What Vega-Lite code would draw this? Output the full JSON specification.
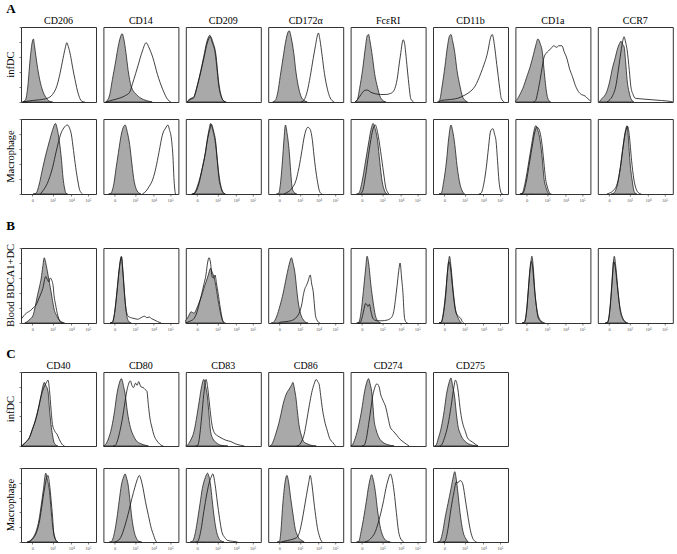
{
"$schema":"https://vega.github.io/schema/vega-lite/v6.json",
"background":"white",
"padding":{"left":6,"top":3,"right":0,"bottom":0},
"spacing":17,
"config":{
"font":"Liberation Serif",
"view":{"stroke":"#333","strokeWidth":1},
"header":{"labelFont":"Liberation Serif","labelFontSize":10.5,"labelColor":"black"},
"title":{"font":"Liberation Serif","fontSize":13,"fontWeight":"bold","anchor":"start","frame":"bounds","color":"black"},
"axis":{"grid":false,"domain":false,"title":null,"tickSize":2,"tickColor":"#444","tickWidth":0.7,"labelFontSize":4.5,"labelColor":"#555","labelPadding":1}
},
"datasets":{"d":[
{"r":"infDC","c":"CD206","k":"i","x":2,"y":0},{"r":"infDC","c":"CD206","k":"i","x":6,"y":3},{"r":"infDC","c":"CD206","k":"i","x":9,"y":20},{"r":"infDC","c":"CD206","k":"i","x":12,"y":55},{"r":"infDC","c":"CD206","k":"i","x":15,"y":80},{"r":"infDC","c":"CD206","k":"i","x":16.5,"y":84},{"r":"infDC","c":"CD206","k":"i","x":18,"y":75},{"r":"infDC","c":"CD206","k":"i","x":20,"y":60},{"r":"infDC","c":"CD206","k":"i","x":23,"y":40},{"r":"infDC","c":"CD206","k":"i","x":26,"y":25},{"r":"infDC","c":"CD206","k":"i","x":30,"y":12},{"r":"infDC","c":"CD206","k":"i","x":34,"y":5},{"r":"infDC","c":"CD206","k":"i","x":38,"y":1},{"r":"infDC","c":"CD206","k":"i","x":42,"y":0},
{"r":"infDC","c":"CD206","k":"s","x":2,"y":0},{"r":"infDC","c":"CD206","k":"s","x":8,"y":1},{"r":"infDC","c":"CD206","k":"s","x":15,"y":2},{"r":"infDC","c":"CD206","k":"s","x":25,"y":3},{"r":"infDC","c":"CD206","k":"s","x":35,"y":5},{"r":"infDC","c":"CD206","k":"s","x":42,"y":10},{"r":"infDC","c":"CD206","k":"s","x":48,"y":22},{"r":"infDC","c":"CD206","k":"s","x":52,"y":38},{"r":"infDC","c":"CD206","k":"s","x":56,"y":58},{"r":"infDC","c":"CD206","k":"s","x":59,"y":72},{"r":"infDC","c":"CD206","k":"s","x":61,"y":79},{"r":"infDC","c":"CD206","k":"s","x":63,"y":74},{"r":"infDC","c":"CD206","k":"s","x":66,"y":62},{"r":"infDC","c":"CD206","k":"s","x":69,"y":45},{"r":"infDC","c":"CD206","k":"s","x":72,"y":30},{"r":"infDC","c":"CD206","k":"s","x":75,"y":16},{"r":"infDC","c":"CD206","k":"s","x":78,"y":6},{"r":"infDC","c":"CD206","k":"s","x":81,"y":1},{"r":"infDC","c":"CD206","k":"s","x":85,"y":0},
{"r":"infDC","c":"CD14","k":"i","x":3,"y":0},{"r":"infDC","c":"CD14","k":"i","x":8,"y":8},{"r":"infDC","c":"CD14","k":"i","x":12,"y":30},{"r":"infDC","c":"CD14","k":"i","x":16,"y":52},{"r":"infDC","c":"CD14","k":"i","x":19,"y":70},{"r":"infDC","c":"CD14","k":"i","x":22,"y":84},{"r":"infDC","c":"CD14","k":"i","x":25,"y":91},{"r":"infDC","c":"CD14","k":"i","x":27,"y":85},{"r":"infDC","c":"CD14","k":"i","x":30,"y":66},{"r":"infDC","c":"CD14","k":"i","x":33,"y":42},{"r":"infDC","c":"CD14","k":"i","x":37,"y":21},{"r":"infDC","c":"CD14","k":"i","x":44,"y":10},{"r":"infDC","c":"CD14","k":"i","x":50,"y":5},{"r":"infDC","c":"CD14","k":"i","x":57,"y":2},{"r":"infDC","c":"CD14","k":"i","x":65,"y":0},
{"r":"infDC","c":"CD14","k":"s","x":3,"y":0},{"r":"infDC","c":"CD14","k":"s","x":10,"y":2},{"r":"infDC","c":"CD14","k":"s","x":21,"y":5},{"r":"infDC","c":"CD14","k":"s","x":30,"y":9},{"r":"infDC","c":"CD14","k":"s","x":35,"y":13},{"r":"infDC","c":"CD14","k":"s","x":39,"y":25},{"r":"infDC","c":"CD14","k":"s","x":43,"y":38},{"r":"infDC","c":"CD14","k":"s","x":46,"y":48},{"r":"infDC","c":"CD14","k":"s","x":52,"y":68},{"r":"infDC","c":"CD14","k":"s","x":57,"y":79},{"r":"infDC","c":"CD14","k":"s","x":61,"y":72},{"r":"infDC","c":"CD14","k":"s","x":66,"y":59},{"r":"infDC","c":"CD14","k":"s","x":72,"y":37},{"r":"infDC","c":"CD14","k":"s","x":79,"y":17},{"r":"infDC","c":"CD14","k":"s","x":86,"y":3},{"r":"infDC","c":"CD14","k":"s","x":90,"y":0},
{"r":"infDC","c":"CD209","k":"i","x":2,"y":0},{"r":"infDC","c":"CD209","k":"i","x":5,"y":4},{"r":"infDC","c":"CD209","k":"i","x":7,"y":5},{"r":"infDC","c":"CD209","k":"i","x":10,"y":6},{"r":"infDC","c":"CD209","k":"i","x":16,"y":25},{"r":"infDC","c":"CD209","k":"i","x":20,"y":42},{"r":"infDC","c":"CD209","k":"i","x":24,"y":61},{"r":"infDC","c":"CD209","k":"i","x":28,"y":80},{"r":"infDC","c":"CD209","k":"i","x":31,"y":88},{"r":"infDC","c":"CD209","k":"i","x":32,"y":89},{"r":"infDC","c":"CD209","k":"i","x":35,"y":80},{"r":"infDC","c":"CD209","k":"i","x":39,"y":66},{"r":"infDC","c":"CD209","k":"i","x":42,"y":40},{"r":"infDC","c":"CD209","k":"i","x":44,"y":21},{"r":"infDC","c":"CD209","k":"i","x":47,"y":8},{"r":"infDC","c":"CD209","k":"i","x":49,"y":3},{"r":"infDC","c":"CD209","k":"i","x":53,"y":0},
{"r":"infDC","c":"CD209","k":"s","x":2,"y":0},{"r":"infDC","c":"CD209","k":"s","x":7,"y":4},{"r":"infDC","c":"CD209","k":"s","x":10,"y":5},{"r":"infDC","c":"CD209","k":"s","x":16,"y":24},{"r":"infDC","c":"CD209","k":"s","x":24,"y":58},{"r":"infDC","c":"CD209","k":"s","x":29,"y":80},{"r":"infDC","c":"CD209","k":"s","x":33,"y":87},{"r":"infDC","c":"CD209","k":"s","x":36,"y":80},{"r":"infDC","c":"CD209","k":"s","x":40,"y":64},{"r":"infDC","c":"CD209","k":"s","x":44,"y":25},{"r":"infDC","c":"CD209","k":"s","x":47,"y":9},{"r":"infDC","c":"CD209","k":"s","x":50,"y":2},{"r":"infDC","c":"CD209","k":"s","x":54,"y":0},
{"r":"infDC","c":"CD172α","k":"i","x":6,"y":0},{"r":"infDC","c":"CD172α","k":"i","x":10,"y":3},{"r":"infDC","c":"CD172α","k":"i","x":13,"y":14},{"r":"infDC","c":"CD172α","k":"i","x":16,"y":34},{"r":"infDC","c":"CD172α","k":"i","x":20,"y":60},{"r":"infDC","c":"CD172α","k":"i","x":23,"y":79},{"r":"infDC","c":"CD172α","k":"i","x":26,"y":92},{"r":"infDC","c":"CD172α","k":"i","x":28,"y":95},{"r":"infDC","c":"CD172α","k":"i","x":31,"y":84},{"r":"infDC","c":"CD172α","k":"i","x":34,"y":66},{"r":"infDC","c":"CD172α","k":"i","x":37,"y":40},{"r":"infDC","c":"CD172α","k":"i","x":41,"y":17},{"r":"infDC","c":"CD172α","k":"i","x":44,"y":7},{"r":"infDC","c":"CD172α","k":"i","x":48,"y":2},{"r":"infDC","c":"CD172α","k":"i","x":52,"y":0},
{"r":"infDC","c":"CD172α","k":"s","x":44,"y":0},{"r":"infDC","c":"CD172α","k":"s","x":48,"y":3},{"r":"infDC","c":"CD172α","k":"s","x":52,"y":14},{"r":"infDC","c":"CD172α","k":"s","x":56,"y":34},{"r":"infDC","c":"CD172α","k":"s","x":60,"y":58},{"r":"infDC","c":"CD172α","k":"s","x":63,"y":75},{"r":"infDC","c":"CD172α","k":"s","x":65,"y":86},{"r":"infDC","c":"CD172α","k":"s","x":67,"y":92},{"r":"infDC","c":"CD172α","k":"s","x":69,"y":83},{"r":"infDC","c":"CD172α","k":"s","x":72,"y":61},{"r":"infDC","c":"CD172α","k":"s","x":75,"y":38},{"r":"infDC","c":"CD172α","k":"s","x":79,"y":17},{"r":"infDC","c":"CD172α","k":"s","x":82,"y":7},{"r":"infDC","c":"CD172α","k":"s","x":85,"y":2},{"r":"infDC","c":"CD172α","k":"s","x":88,"y":0},
{"r":"infDC","c":"FcεRI","k":"i","x":6,"y":0},{"r":"infDC","c":"FcεRI","k":"i","x":9,"y":3},{"r":"infDC","c":"FcεRI","k":"i","x":12,"y":18},{"r":"infDC","c":"FcεRI","k":"i","x":16,"y":43},{"r":"infDC","c":"FcεRI","k":"i","x":20,"y":75},{"r":"infDC","c":"FcεRI","k":"i","x":22,"y":88},{"r":"infDC","c":"FcεRI","k":"i","x":24,"y":90},{"r":"infDC","c":"FcεRI","k":"i","x":26,"y":80},{"r":"infDC","c":"FcεRI","k":"i","x":29,"y":61},{"r":"infDC","c":"FcεRI","k":"i","x":32,"y":38},{"r":"infDC","c":"FcεRI","k":"i","x":36,"y":19},{"r":"infDC","c":"FcεRI","k":"i","x":39,"y":8},{"r":"infDC","c":"FcεRI","k":"i","x":42,"y":3},{"r":"infDC","c":"FcεRI","k":"i","x":47,"y":0},
{"r":"infDC","c":"FcεRI","k":"s","x":6,"y":0},{"r":"infDC","c":"FcεRI","k":"s","x":9,"y":3},{"r":"infDC","c":"FcεRI","k":"s","x":14,"y":10},{"r":"infDC","c":"FcεRI","k":"s","x":18,"y":15},{"r":"infDC","c":"FcεRI","k":"s","x":22,"y":16},{"r":"infDC","c":"FcεRI","k":"s","x":27,"y":13},{"r":"infDC","c":"FcεRI","k":"s","x":33,"y":11},{"r":"infDC","c":"FcεRI","k":"s","x":40,"y":10},{"r":"infDC","c":"FcεRI","k":"s","x":47,"y":10},{"r":"infDC","c":"FcεRI","k":"s","x":52,"y":11},{"r":"infDC","c":"FcεRI","k":"s","x":56,"y":13},{"r":"infDC","c":"FcεRI","k":"s","x":59,"y":18},{"r":"infDC","c":"FcεRI","k":"s","x":62,"y":30},{"r":"infDC","c":"FcεRI","k":"s","x":65,"y":52},{"r":"infDC","c":"FcεRI","k":"s","x":67,"y":66},{"r":"infDC","c":"FcεRI","k":"s","x":69,"y":80},{"r":"infDC","c":"FcεRI","k":"s","x":70,"y":83},{"r":"infDC","c":"FcεRI","k":"s","x":72,"y":78},{"r":"infDC","c":"FcεRI","k":"s","x":73,"y":70},{"r":"infDC","c":"FcεRI","k":"s","x":75,"y":50},{"r":"infDC","c":"FcεRI","k":"s","x":77,"y":30},{"r":"infDC","c":"FcεRI","k":"s","x":79,"y":12},{"r":"infDC","c":"FcεRI","k":"s","x":80,"y":5},{"r":"infDC","c":"FcεRI","k":"s","x":84,"y":0},
{"r":"infDC","c":"CD11b","k":"i","x":6,"y":0},{"r":"infDC","c":"CD11b","k":"i","x":9,"y":3},{"r":"infDC","c":"CD11b","k":"i","x":12,"y":20},{"r":"infDC","c":"CD11b","k":"i","x":16,"y":48},{"r":"infDC","c":"CD11b","k":"i","x":19,"y":72},{"r":"infDC","c":"CD11b","k":"i","x":22,"y":88},{"r":"infDC","c":"CD11b","k":"i","x":24,"y":90},{"r":"infDC","c":"CD11b","k":"i","x":26,"y":82},{"r":"infDC","c":"CD11b","k":"i","x":29,"y":66},{"r":"infDC","c":"CD11b","k":"i","x":32,"y":42},{"r":"infDC","c":"CD11b","k":"i","x":36,"y":21},{"r":"infDC","c":"CD11b","k":"i","x":39,"y":8},{"r":"infDC","c":"CD11b","k":"i","x":42,"y":3},{"r":"infDC","c":"CD11b","k":"i","x":46,"y":0},
{"r":"infDC","c":"CD11b","k":"s","x":8,"y":0},{"r":"infDC","c":"CD11b","k":"s","x":11,"y":2},{"r":"infDC","c":"CD11b","k":"s","x":20,"y":3},{"r":"infDC","c":"CD11b","k":"s","x":33,"y":5},{"r":"infDC","c":"CD11b","k":"s","x":40,"y":8},{"r":"infDC","c":"CD11b","k":"s","x":47,"y":12},{"r":"infDC","c":"CD11b","k":"s","x":52,"y":16},{"r":"infDC","c":"CD11b","k":"s","x":56,"y":21},{"r":"infDC","c":"CD11b","k":"s","x":60,"y":29},{"r":"infDC","c":"CD11b","k":"s","x":64,"y":39},{"r":"infDC","c":"CD11b","k":"s","x":68,"y":50},{"r":"infDC","c":"CD11b","k":"s","x":71,"y":59},{"r":"infDC","c":"CD11b","k":"s","x":74,"y":72},{"r":"infDC","c":"CD11b","k":"s","x":76,"y":83},{"r":"infDC","c":"CD11b","k":"s","x":79,"y":90},{"r":"infDC","c":"CD11b","k":"s","x":82,"y":75},{"r":"infDC","c":"CD11b","k":"s","x":85,"y":50},{"r":"infDC","c":"CD11b","k":"s","x":87,"y":34},{"r":"infDC","c":"CD11b","k":"s","x":89,"y":18},{"r":"infDC","c":"CD11b","k":"s","x":91,"y":5},{"r":"infDC","c":"CD11b","k":"s","x":95,"y":0},
{"r":"infDC","c":"CD1a","k":"i","x":0,"y":1},{"r":"infDC","c":"CD1a","k":"i","x":2,"y":3},{"r":"infDC","c":"CD1a","k":"i","x":6,"y":10},{"r":"infDC","c":"CD1a","k":"i","x":11,"y":21},{"r":"infDC","c":"CD1a","k":"i","x":15,"y":33},{"r":"infDC","c":"CD1a","k":"i","x":20,"y":48},{"r":"infDC","c":"CD1a","k":"i","x":24,"y":63},{"r":"infDC","c":"CD1a","k":"i","x":27,"y":75},{"r":"infDC","c":"CD1a","k":"i","x":30,"y":84},{"r":"infDC","c":"CD1a","k":"i","x":33,"y":78},{"r":"infDC","c":"CD1a","k":"i","x":36,"y":66},{"r":"infDC","c":"CD1a","k":"i","x":38,"y":45},{"r":"infDC","c":"CD1a","k":"i","x":40,"y":25},{"r":"infDC","c":"CD1a","k":"i","x":42,"y":10},{"r":"infDC","c":"CD1a","k":"i","x":44,"y":3},{"r":"infDC","c":"CD1a","k":"i","x":47,"y":0},
{"r":"infDC","c":"CD1a","k":"s","x":24,"y":0},{"r":"infDC","c":"CD1a","k":"s","x":27,"y":2},{"r":"infDC","c":"CD1a","k":"s","x":30,"y":14},{"r":"infDC","c":"CD1a","k":"s","x":33,"y":30},{"r":"infDC","c":"CD1a","k":"s","x":36,"y":48},{"r":"infDC","c":"CD1a","k":"s","x":38,"y":59},{"r":"infDC","c":"CD1a","k":"s","x":41,"y":65},{"r":"infDC","c":"CD1a","k":"s","x":44,"y":68},{"r":"infDC","c":"CD1a","k":"s","x":48,"y":72},{"r":"infDC","c":"CD1a","k":"s","x":51,"y":75},{"r":"infDC","c":"CD1a","k":"s","x":55,"y":73},{"r":"infDC","c":"CD1a","k":"s","x":58,"y":75},{"r":"infDC","c":"CD1a","k":"s","x":62,"y":75},{"r":"infDC","c":"CD1a","k":"s","x":65,"y":67},{"r":"infDC","c":"CD1a","k":"s","x":69,"y":57},{"r":"infDC","c":"CD1a","k":"s","x":72,"y":45},{"r":"infDC","c":"CD1a","k":"s","x":76,"y":34},{"r":"infDC","c":"CD1a","k":"s","x":80,"y":22},{"r":"infDC","c":"CD1a","k":"s","x":84,"y":14},{"r":"infDC","c":"CD1a","k":"s","x":88,"y":10},{"r":"infDC","c":"CD1a","k":"s","x":93,"y":8},{"r":"infDC","c":"CD1a","k":"s","x":96,"y":5},{"r":"infDC","c":"CD1a","k":"s","x":98,"y":3},{"r":"infDC","c":"CD1a","k":"s","x":100,"y":2},
{"r":"infDC","c":"CCR7","k":"i","x":2,"y":0},{"r":"infDC","c":"CCR7","k":"i","x":4,"y":3},{"r":"infDC","c":"CCR7","k":"i","x":8,"y":7},{"r":"infDC","c":"CCR7","k":"i","x":12,"y":14},{"r":"infDC","c":"CCR7","k":"i","x":16,"y":28},{"r":"infDC","c":"CCR7","k":"i","x":19,"y":43},{"r":"infDC","c":"CCR7","k":"i","x":23,"y":58},{"r":"infDC","c":"CCR7","k":"i","x":26,"y":70},{"r":"infDC","c":"CCR7","k":"i","x":29,"y":78},{"r":"infDC","c":"CCR7","k":"i","x":31,"y":81},{"r":"infDC","c":"CCR7","k":"i","x":33,"y":77},{"r":"infDC","c":"CCR7","k":"i","x":35,"y":74},{"r":"infDC","c":"CCR7","k":"i","x":37,"y":55},{"r":"infDC","c":"CCR7","k":"i","x":39,"y":30},{"r":"infDC","c":"CCR7","k":"i","x":42,"y":12},{"r":"infDC","c":"CCR7","k":"i","x":44,"y":5},{"r":"infDC","c":"CCR7","k":"i","x":48,"y":0},
{"r":"infDC","c":"CCR7","k":"s","x":12,"y":0},{"r":"infDC","c":"CCR7","k":"s","x":15,"y":2},{"r":"infDC","c":"CCR7","k":"s","x":20,"y":9},{"r":"infDC","c":"CCR7","k":"s","x":24,"y":21},{"r":"infDC","c":"CCR7","k":"s","x":27,"y":40},{"r":"infDC","c":"CCR7","k":"s","x":30,"y":61},{"r":"infDC","c":"CCR7","k":"s","x":33,"y":80},{"r":"infDC","c":"CCR7","k":"s","x":35,"y":87},{"r":"infDC","c":"CCR7","k":"s","x":37,"y":80},{"r":"infDC","c":"CCR7","k":"s","x":39,"y":70},{"r":"infDC","c":"CCR7","k":"s","x":42,"y":42},{"r":"infDC","c":"CCR7","k":"s","x":44,"y":21},{"r":"infDC","c":"CCR7","k":"s","x":47,"y":10},{"r":"infDC","c":"CCR7","k":"s","x":50,"y":5},{"r":"infDC","c":"CCR7","k":"s","x":60,"y":4},{"r":"infDC","c":"CCR7","k":"s","x":72,"y":3},{"r":"infDC","c":"CCR7","k":"s","x":85,"y":2},{"r":"infDC","c":"CCR7","k":"s","x":95,"y":1},{"r":"infDC","c":"CCR7","k":"s","x":100,"y":0},
{"r":"Macrophage","c":"CD206","k":"i","x":16,"y":0},{"r":"Macrophage","c":"CD206","k":"i","x":20,"y":1},{"r":"Macrophage","c":"CD206","k":"i","x":24,"y":12},{"r":"Macrophage","c":"CD206","k":"i","x":29,"y":35},{"r":"Macrophage","c":"CD206","k":"i","x":33,"y":52},{"r":"Macrophage","c":"CD206","k":"i","x":38,"y":71},{"r":"Macrophage","c":"CD206","k":"i","x":42,"y":85},{"r":"Macrophage","c":"CD206","k":"i","x":46,"y":94},{"r":"Macrophage","c":"CD206","k":"i","x":48,"y":88},{"r":"Macrophage","c":"CD206","k":"i","x":51,"y":71},{"r":"Macrophage","c":"CD206","k":"i","x":54,"y":45},{"r":"Macrophage","c":"CD206","k":"i","x":56,"y":22},{"r":"Macrophage","c":"CD206","k":"i","x":58,"y":8},{"r":"Macrophage","c":"CD206","k":"i","x":60,"y":1},{"r":"Macrophage","c":"CD206","k":"i","x":62,"y":0},
{"r":"Macrophage","c":"CD206","k":"s","x":26,"y":0},{"r":"Macrophage","c":"CD206","k":"s","x":29,"y":4},{"r":"Macrophage","c":"CD206","k":"s","x":35,"y":14},{"r":"Macrophage","c":"CD206","k":"s","x":42,"y":35},{"r":"Macrophage","c":"CD206","k":"s","x":47,"y":57},{"r":"Macrophage","c":"CD206","k":"s","x":53,"y":80},{"r":"Macrophage","c":"CD206","k":"s","x":57,"y":88},{"r":"Macrophage","c":"CD206","k":"s","x":62,"y":92},{"r":"Macrophage","c":"CD206","k":"s","x":65,"y":87},{"r":"Macrophage","c":"CD206","k":"s","x":67,"y":80},{"r":"Macrophage","c":"CD206","k":"s","x":70,"y":58},{"r":"Macrophage","c":"CD206","k":"s","x":73,"y":35},{"r":"Macrophage","c":"CD206","k":"s","x":76,"y":16},{"r":"Macrophage","c":"CD206","k":"s","x":78,"y":6},{"r":"Macrophage","c":"CD206","k":"s","x":80,"y":2},{"r":"Macrophage","c":"CD206","k":"s","x":82,"y":0},
{"r":"Macrophage","c":"CD14","k":"i","x":7,"y":0},{"r":"Macrophage","c":"CD14","k":"i","x":10,"y":1},{"r":"Macrophage","c":"CD14","k":"i","x":14,"y":14},{"r":"Macrophage","c":"CD14","k":"i","x":17,"y":35},{"r":"Macrophage","c":"CD14","k":"i","x":20,"y":55},{"r":"Macrophage","c":"CD14","k":"i","x":24,"y":80},{"r":"Macrophage","c":"CD14","k":"i","x":27,"y":90},{"r":"Macrophage","c":"CD14","k":"i","x":29,"y":92},{"r":"Macrophage","c":"CD14","k":"i","x":32,"y":82},{"r":"Macrophage","c":"CD14","k":"i","x":35,"y":66},{"r":"Macrophage","c":"CD14","k":"i","x":38,"y":40},{"r":"Macrophage","c":"CD14","k":"i","x":41,"y":17},{"r":"Macrophage","c":"CD14","k":"i","x":44,"y":6},{"r":"Macrophage","c":"CD14","k":"i","x":48,"y":1},{"r":"Macrophage","c":"CD14","k":"i","x":50,"y":0},
{"r":"Macrophage","c":"CD14","k":"s","x":52,"y":0},{"r":"Macrophage","c":"CD14","k":"s","x":57,"y":4},{"r":"Macrophage","c":"CD14","k":"s","x":61,"y":10},{"r":"Macrophage","c":"CD14","k":"s","x":66,"y":20},{"r":"Macrophage","c":"CD14","k":"s","x":70,"y":35},{"r":"Macrophage","c":"CD14","k":"s","x":74,"y":55},{"r":"Macrophage","c":"CD14","k":"s","x":79,"y":80},{"r":"Macrophage","c":"CD14","k":"s","x":83,"y":88},{"r":"Macrophage","c":"CD14","k":"s","x":86,"y":92},{"r":"Macrophage","c":"CD14","k":"s","x":88,"y":86},{"r":"Macrophage","c":"CD14","k":"s","x":91,"y":71},{"r":"Macrophage","c":"CD14","k":"s","x":93,"y":45},{"r":"Macrophage","c":"CD14","k":"s","x":94,"y":22},{"r":"Macrophage","c":"CD14","k":"s","x":95,"y":8},{"r":"Macrophage","c":"CD14","k":"s","x":96,"y":0},
{"r":"Macrophage","c":"CD209","k":"i","x":8,"y":0},{"r":"Macrophage","c":"CD209","k":"i","x":11,"y":1},{"r":"Macrophage","c":"CD209","k":"i","x":16,"y":12},{"r":"Macrophage","c":"CD209","k":"i","x":22,"y":35},{"r":"Macrophage","c":"CD209","k":"i","x":26,"y":55},{"r":"Macrophage","c":"CD209","k":"i","x":29,"y":75},{"r":"Macrophage","c":"CD209","k":"i","x":31,"y":86},{"r":"Macrophage","c":"CD209","k":"i","x":33,"y":94},{"r":"Macrophage","c":"CD209","k":"i","x":36,"y":85},{"r":"Macrophage","c":"CD209","k":"i","x":39,"y":71},{"r":"Macrophage","c":"CD209","k":"i","x":42,"y":45},{"r":"Macrophage","c":"CD209","k":"i","x":44,"y":22},{"r":"Macrophage","c":"CD209","k":"i","x":47,"y":8},{"r":"Macrophage","c":"CD209","k":"i","x":50,"y":1},{"r":"Macrophage","c":"CD209","k":"i","x":52,"y":0},
{"r":"Macrophage","c":"CD209","k":"s","x":9,"y":0},{"r":"Macrophage","c":"CD209","k":"s","x":12,"y":1},{"r":"Macrophage","c":"CD209","k":"s","x":17,"y":12},{"r":"Macrophage","c":"CD209","k":"s","x":22,"y":34},{"r":"Macrophage","c":"CD209","k":"s","x":26,"y":54},{"r":"Macrophage","c":"CD209","k":"s","x":29,"y":73},{"r":"Macrophage","c":"CD209","k":"s","x":32,"y":86},{"r":"Macrophage","c":"CD209","k":"s","x":34,"y":93},{"r":"Macrophage","c":"CD209","k":"s","x":37,"y":84},{"r":"Macrophage","c":"CD209","k":"s","x":40,"y":68},{"r":"Macrophage","c":"CD209","k":"s","x":42,"y":45},{"r":"Macrophage","c":"CD209","k":"s","x":45,"y":20},{"r":"Macrophage","c":"CD209","k":"s","x":48,"y":6},{"r":"Macrophage","c":"CD209","k":"s","x":51,"y":1},{"r":"Macrophage","c":"CD209","k":"s","x":53,"y":0},
{"r":"Macrophage","c":"CD172α","k":"i","x":11,"y":0},{"r":"Macrophage","c":"CD172α","k":"i","x":14,"y":1},{"r":"Macrophage","c":"CD172α","k":"i","x":17,"y":20},{"r":"Macrophage","c":"CD172α","k":"i","x":19,"y":44},{"r":"Macrophage","c":"CD172α","k":"i","x":21,"y":72},{"r":"Macrophage","c":"CD172α","k":"i","x":23,"y":92},{"r":"Macrophage","c":"CD172α","k":"i","x":25,"y":82},{"r":"Macrophage","c":"CD172α","k":"i","x":28,"y":57},{"r":"Macrophage","c":"CD172α","k":"i","x":30,"y":30},{"r":"Macrophage","c":"CD172α","k":"i","x":32,"y":8},{"r":"Macrophage","c":"CD172α","k":"i","x":34,"y":3},{"r":"Macrophage","c":"CD172α","k":"i","x":36,"y":1},{"r":"Macrophage","c":"CD172α","k":"i","x":38,"y":0},
{"r":"Macrophage","c":"CD172α","k":"s","x":21,"y":0},{"r":"Macrophage","c":"CD172α","k":"s","x":25,"y":2},{"r":"Macrophage","c":"CD172α","k":"s","x":32,"y":8},{"r":"Macrophage","c":"CD172α","k":"s","x":37,"y":18},{"r":"Macrophage","c":"CD172α","k":"s","x":41,"y":35},{"r":"Macrophage","c":"CD172α","k":"s","x":45,"y":58},{"r":"Macrophage","c":"CD172α","k":"s","x":48,"y":76},{"r":"Macrophage","c":"CD172α","k":"s","x":50,"y":84},{"r":"Macrophage","c":"CD172α","k":"s","x":53,"y":89},{"r":"Macrophage","c":"CD172α","k":"s","x":56,"y":86},{"r":"Macrophage","c":"CD172α","k":"s","x":59,"y":71},{"r":"Macrophage","c":"CD172α","k":"s","x":61,"y":52},{"r":"Macrophage","c":"CD172α","k":"s","x":63,"y":35},{"r":"Macrophage","c":"CD172α","k":"s","x":66,"y":15},{"r":"Macrophage","c":"CD172α","k":"s","x":68,"y":5},{"r":"Macrophage","c":"CD172α","k":"s","x":70,"y":1},{"r":"Macrophage","c":"CD172α","k":"s","x":72,"y":0},
{"r":"Macrophage","c":"FcεRI","k":"i","x":8,"y":0},{"r":"Macrophage","c":"FcεRI","k":"i","x":11,"y":1},{"r":"Macrophage","c":"FcεRI","k":"i","x":15,"y":15},{"r":"Macrophage","c":"FcεRI","k":"i","x":20,"y":44},{"r":"Macrophage","c":"FcεRI","k":"i","x":24,"y":68},{"r":"Macrophage","c":"FcεRI","k":"i","x":27,"y":85},{"r":"Macrophage","c":"FcεRI","k":"i","x":30,"y":94},{"r":"Macrophage","c":"FcεRI","k":"i","x":33,"y":86},{"r":"Macrophage","c":"FcεRI","k":"i","x":36,"y":71},{"r":"Macrophage","c":"FcεRI","k":"i","x":39,"y":42},{"r":"Macrophage","c":"FcεRI","k":"i","x":42,"y":17},{"r":"Macrophage","c":"FcεRI","k":"i","x":45,"y":5},{"r":"Macrophage","c":"FcεRI","k":"i","x":47,"y":1},{"r":"Macrophage","c":"FcεRI","k":"i","x":49,"y":0},
{"r":"Macrophage","c":"FcεRI","k":"s","x":13,"y":0},{"r":"Macrophage","c":"FcεRI","k":"s","x":16,"y":4},{"r":"Macrophage","c":"FcεRI","k":"s","x":20,"y":25},{"r":"Macrophage","c":"FcεRI","k":"s","x":24,"y":53},{"r":"Macrophage","c":"FcεRI","k":"s","x":28,"y":78},{"r":"Macrophage","c":"FcεRI","k":"s","x":31,"y":90},{"r":"Macrophage","c":"FcεRI","k":"s","x":33,"y":92},{"r":"Macrophage","c":"FcεRI","k":"s","x":36,"y":82},{"r":"Macrophage","c":"FcεRI","k":"s","x":40,"y":57},{"r":"Macrophage","c":"FcεRI","k":"s","x":44,"y":28},{"r":"Macrophage","c":"FcεRI","k":"s","x":47,"y":8},{"r":"Macrophage","c":"FcεRI","k":"s","x":49,"y":3},{"r":"Macrophage","c":"FcεRI","k":"s","x":51,"y":0},
{"r":"Macrophage","c":"CD11b","k":"i","x":8,"y":0},{"r":"Macrophage","c":"CD11b","k":"i","x":11,"y":1},{"r":"Macrophage","c":"CD11b","k":"i","x":14,"y":15},{"r":"Macrophage","c":"CD11b","k":"i","x":18,"y":44},{"r":"Macrophage","c":"CD11b","k":"i","x":21,"y":75},{"r":"Macrophage","c":"CD11b","k":"i","x":24,"y":92},{"r":"Macrophage","c":"CD11b","k":"i","x":26,"y":85},{"r":"Macrophage","c":"CD11b","k":"i","x":29,"y":66},{"r":"Macrophage","c":"CD11b","k":"i","x":32,"y":38},{"r":"Macrophage","c":"CD11b","k":"i","x":36,"y":13},{"r":"Macrophage","c":"CD11b","k":"i","x":39,"y":4},{"r":"Macrophage","c":"CD11b","k":"i","x":42,"y":0},
{"r":"Macrophage","c":"CD11b","k":"s","x":61,"y":0},{"r":"Macrophage","c":"CD11b","k":"s","x":64,"y":1},{"r":"Macrophage","c":"CD11b","k":"s","x":68,"y":15},{"r":"Macrophage","c":"CD11b","k":"s","x":71,"y":35},{"r":"Macrophage","c":"CD11b","k":"s","x":74,"y":62},{"r":"Macrophage","c":"CD11b","k":"s","x":76,"y":80},{"r":"Macrophage","c":"CD11b","k":"s","x":78,"y":86},{"r":"Macrophage","c":"CD11b","k":"s","x":80,"y":87},{"r":"Macrophage","c":"CD11b","k":"s","x":82,"y":80},{"r":"Macrophage","c":"CD11b","k":"s","x":84,"y":71},{"r":"Macrophage","c":"CD11b","k":"s","x":86,"y":45},{"r":"Macrophage","c":"CD11b","k":"s","x":88,"y":17},{"r":"Macrophage","c":"CD11b","k":"s","x":90,"y":4},{"r":"Macrophage","c":"CD11b","k":"s","x":91,"y":1},{"r":"Macrophage","c":"CD11b","k":"s","x":93,"y":0},
{"r":"Macrophage","c":"CD1a","k":"i","x":6,"y":0},{"r":"Macrophage","c":"CD1a","k":"i","x":9,"y":1},{"r":"Macrophage","c":"CD1a","k":"i","x":13,"y":15},{"r":"Macrophage","c":"CD1a","k":"i","x":18,"y":44},{"r":"Macrophage","c":"CD1a","k":"i","x":22,"y":68},{"r":"Macrophage","c":"CD1a","k":"i","x":25,"y":85},{"r":"Macrophage","c":"CD1a","k":"i","x":27,"y":91},{"r":"Macrophage","c":"CD1a","k":"i","x":30,"y":85},{"r":"Macrophage","c":"CD1a","k":"i","x":33,"y":71},{"r":"Macrophage","c":"CD1a","k":"i","x":36,"y":45},{"r":"Macrophage","c":"CD1a","k":"i","x":38,"y":22},{"r":"Macrophage","c":"CD1a","k":"i","x":41,"y":8},{"r":"Macrophage","c":"CD1a","k":"i","x":44,"y":1},{"r":"Macrophage","c":"CD1a","k":"i","x":46,"y":0},
{"r":"Macrophage","c":"CD1a","k":"s","x":7,"y":0},{"r":"Macrophage","c":"CD1a","k":"s","x":10,"y":1},{"r":"Macrophage","c":"CD1a","k":"s","x":14,"y":14},{"r":"Macrophage","c":"CD1a","k":"s","x":19,"y":43},{"r":"Macrophage","c":"CD1a","k":"s","x":23,"y":67},{"r":"Macrophage","c":"CD1a","k":"s","x":26,"y":83},{"r":"Macrophage","c":"CD1a","k":"s","x":29,"y":89},{"r":"Macrophage","c":"CD1a","k":"s","x":32,"y":85},{"r":"Macrophage","c":"CD1a","k":"s","x":35,"y":70},{"r":"Macrophage","c":"CD1a","k":"s","x":38,"y":42},{"r":"Macrophage","c":"CD1a","k":"s","x":40,"y":22},{"r":"Macrophage","c":"CD1a","k":"s","x":43,"y":8},{"r":"Macrophage","c":"CD1a","k":"s","x":46,"y":1},{"r":"Macrophage","c":"CD1a","k":"s","x":48,"y":0},
{"r":"Macrophage","c":"CCR7","k":"i","x":18,"y":0},{"r":"Macrophage","c":"CCR7","k":"i","x":21,"y":1},{"r":"Macrophage","c":"CCR7","k":"i","x":26,"y":12},{"r":"Macrophage","c":"CCR7","k":"i","x":30,"y":35},{"r":"Macrophage","c":"CCR7","k":"i","x":33,"y":58},{"r":"Macrophage","c":"CCR7","k":"i","x":36,"y":80},{"r":"Macrophage","c":"CCR7","k":"i","x":39,"y":91},{"r":"Macrophage","c":"CCR7","k":"i","x":41,"y":71},{"r":"Macrophage","c":"CCR7","k":"i","x":43,"y":42},{"r":"Macrophage","c":"CCR7","k":"i","x":46,"y":17},{"r":"Macrophage","c":"CCR7","k":"i","x":48,"y":5},{"r":"Macrophage","c":"CCR7","k":"i","x":50,"y":1},{"r":"Macrophage","c":"CCR7","k":"i","x":52,"y":0},
{"r":"Macrophage","c":"CCR7","k":"s","x":12,"y":0},{"r":"Macrophage","c":"CCR7","k":"s","x":15,"y":1},{"r":"Macrophage","c":"CCR7","k":"s","x":20,"y":4},{"r":"Macrophage","c":"CCR7","k":"s","x":26,"y":14},{"r":"Macrophage","c":"CCR7","k":"s","x":30,"y":35},{"r":"Macrophage","c":"CCR7","k":"s","x":34,"y":65},{"r":"Macrophage","c":"CCR7","k":"s","x":37,"y":83},{"r":"Macrophage","c":"CCR7","k":"s","x":40,"y":90},{"r":"Macrophage","c":"CCR7","k":"s","x":42,"y":78},{"r":"Macrophage","c":"CCR7","k":"s","x":45,"y":45},{"r":"Macrophage","c":"CCR7","k":"s","x":48,"y":20},{"r":"Macrophage","c":"CCR7","k":"s","x":51,"y":7},{"r":"Macrophage","c":"CCR7","k":"s","x":55,"y":1},{"r":"Macrophage","c":"CCR7","k":"s","x":58,"y":0},
{"r":"Blood BDCA1+DC","c":"CD206","k":"i","x":5,"y":0},{"r":"Blood BDCA1+DC","c":"CD206","k":"i","x":7,"y":1},{"r":"Blood BDCA1+DC","c":"CD206","k":"i","x":12,"y":5},{"r":"Blood BDCA1+DC","c":"CD206","k":"i","x":16,"y":10},{"r":"Blood BDCA1+DC","c":"CD206","k":"i","x":19,"y":22},{"r":"Blood BDCA1+DC","c":"CD206","k":"i","x":22,"y":37},{"r":"Blood BDCA1+DC","c":"CD206","k":"i","x":25,"y":50},{"r":"Blood BDCA1+DC","c":"CD206","k":"i","x":27,"y":60},{"r":"Blood BDCA1+DC","c":"CD206","k":"i","x":29,"y":75},{"r":"Blood BDCA1+DC","c":"CD206","k":"i","x":31,"y":87},{"r":"Blood BDCA1+DC","c":"CD206","k":"i","x":33,"y":80},{"r":"Blood BDCA1+DC","c":"CD206","k":"i","x":36,"y":64},{"r":"Blood BDCA1+DC","c":"CD206","k":"i","x":38,"y":53},{"r":"Blood BDCA1+DC","c":"CD206","k":"i","x":40,"y":42},{"r":"Blood BDCA1+DC","c":"CD206","k":"i","x":42,"y":30},{"r":"Blood BDCA1+DC","c":"CD206","k":"i","x":44,"y":19},{"r":"Blood BDCA1+DC","c":"CD206","k":"i","x":48,"y":9},{"r":"Blood BDCA1+DC","c":"CD206","k":"i","x":51,"y":4},{"r":"Blood BDCA1+DC","c":"CD206","k":"i","x":55,"y":1},{"r":"Blood BDCA1+DC","c":"CD206","k":"i","x":58,"y":0},
{"r":"Blood BDCA1+DC","c":"CD206","k":"s","x":1,"y":6},{"r":"Blood BDCA1+DC","c":"CD206","k":"s","x":4,"y":10},{"r":"Blood BDCA1+DC","c":"CD206","k":"s","x":7,"y":13},{"r":"Blood BDCA1+DC","c":"CD206","k":"s","x":10,"y":15},{"r":"Blood BDCA1+DC","c":"CD206","k":"s","x":13,"y":17},{"r":"Blood BDCA1+DC","c":"CD206","k":"s","x":16,"y":20},{"r":"Blood BDCA1+DC","c":"CD206","k":"s","x":20,"y":24},{"r":"Blood BDCA1+DC","c":"CD206","k":"s","x":24,"y":33},{"r":"Blood BDCA1+DC","c":"CD206","k":"s","x":29,"y":46},{"r":"Blood BDCA1+DC","c":"CD206","k":"s","x":33,"y":62},{"r":"Blood BDCA1+DC","c":"CD206","k":"s","x":35,"y":58},{"r":"Blood BDCA1+DC","c":"CD206","k":"s","x":37,"y":55},{"r":"Blood BDCA1+DC","c":"CD206","k":"s","x":39,"y":60},{"r":"Blood BDCA1+DC","c":"CD206","k":"s","x":41,"y":57},{"r":"Blood BDCA1+DC","c":"CD206","k":"s","x":43,"y":48},{"r":"Blood BDCA1+DC","c":"CD206","k":"s","x":44,"y":37},{"r":"Blood BDCA1+DC","c":"CD206","k":"s","x":46,"y":25},{"r":"Blood BDCA1+DC","c":"CD206","k":"s","x":49,"y":10},{"r":"Blood BDCA1+DC","c":"CD206","k":"s","x":51,"y":4},{"r":"Blood BDCA1+DC","c":"CD206","k":"s","x":53,"y":1},{"r":"Blood BDCA1+DC","c":"CD206","k":"s","x":56,"y":0},
{"r":"Blood BDCA1+DC","c":"CD14","k":"i","x":9,"y":0},{"r":"Blood BDCA1+DC","c":"CD14","k":"i","x":12,"y":1},{"r":"Blood BDCA1+DC","c":"CD14","k":"i","x":15,"y":14},{"r":"Blood BDCA1+DC","c":"CD14","k":"i","x":18,"y":42},{"r":"Blood BDCA1+DC","c":"CD14","k":"i","x":21,"y":72},{"r":"Blood BDCA1+DC","c":"CD14","k":"i","x":23,"y":86},{"r":"Blood BDCA1+DC","c":"CD14","k":"i","x":24,"y":89},{"r":"Blood BDCA1+DC","c":"CD14","k":"i","x":26,"y":70},{"r":"Blood BDCA1+DC","c":"CD14","k":"i","x":28,"y":42},{"r":"Blood BDCA1+DC","c":"CD14","k":"i","x":30,"y":18},{"r":"Blood BDCA1+DC","c":"CD14","k":"i","x":32,"y":6},{"r":"Blood BDCA1+DC","c":"CD14","k":"i","x":34,"y":2},{"r":"Blood BDCA1+DC","c":"CD14","k":"i","x":37,"y":0},
{"r":"Blood BDCA1+DC","c":"CD14","k":"s","x":9,"y":0},{"r":"Blood BDCA1+DC","c":"CD14","k":"s","x":12,"y":1},{"r":"Blood BDCA1+DC","c":"CD14","k":"s","x":15,"y":14},{"r":"Blood BDCA1+DC","c":"CD14","k":"s","x":18,"y":40},{"r":"Blood BDCA1+DC","c":"CD14","k":"s","x":21,"y":70},{"r":"Blood BDCA1+DC","c":"CD14","k":"s","x":23,"y":85},{"r":"Blood BDCA1+DC","c":"CD14","k":"s","x":24,"y":88},{"r":"Blood BDCA1+DC","c":"CD14","k":"s","x":26,"y":68},{"r":"Blood BDCA1+DC","c":"CD14","k":"s","x":28,"y":40},{"r":"Blood BDCA1+DC","c":"CD14","k":"s","x":30,"y":20},{"r":"Blood BDCA1+DC","c":"CD14","k":"s","x":33,"y":9},{"r":"Blood BDCA1+DC","c":"CD14","k":"s","x":37,"y":7},{"r":"Blood BDCA1+DC","c":"CD14","k":"s","x":41,"y":6},{"r":"Blood BDCA1+DC","c":"CD14","k":"s","x":46,"y":5},{"r":"Blood BDCA1+DC","c":"CD14","k":"s","x":50,"y":7},{"r":"Blood BDCA1+DC","c":"CD14","k":"s","x":55,"y":9},{"r":"Blood BDCA1+DC","c":"CD14","k":"s","x":58,"y":7},{"r":"Blood BDCA1+DC","c":"CD14","k":"s","x":61,"y":8},{"r":"Blood BDCA1+DC","c":"CD14","k":"s","x":64,"y":6},{"r":"Blood BDCA1+DC","c":"CD14","k":"s","x":68,"y":4},{"r":"Blood BDCA1+DC","c":"CD14","k":"s","x":72,"y":2},{"r":"Blood BDCA1+DC","c":"CD14","k":"s","x":77,"y":0},
{"r":"Blood BDCA1+DC","c":"CD209","k":"i","x":0,"y":4},{"r":"Blood BDCA1+DC","c":"CD209","k":"i","x":2,"y":6},{"r":"Blood BDCA1+DC","c":"CD209","k":"i","x":5,"y":12},{"r":"Blood BDCA1+DC","c":"CD209","k":"i","x":7,"y":15},{"r":"Blood BDCA1+DC","c":"CD209","k":"i","x":9,"y":14},{"r":"Blood BDCA1+DC","c":"CD209","k":"i","x":11,"y":13},{"r":"Blood BDCA1+DC","c":"CD209","k":"i","x":14,"y":18},{"r":"Blood BDCA1+DC","c":"CD209","k":"i","x":18,"y":28},{"r":"Blood BDCA1+DC","c":"CD209","k":"i","x":21,"y":36},{"r":"Blood BDCA1+DC","c":"CD209","k":"i","x":24,"y":46},{"r":"Blood BDCA1+DC","c":"CD209","k":"i","x":27,"y":55},{"r":"Blood BDCA1+DC","c":"CD209","k":"i","x":30,"y":64},{"r":"Blood BDCA1+DC","c":"CD209","k":"i","x":33,"y":73},{"r":"Blood BDCA1+DC","c":"CD209","k":"i","x":35,"y":68},{"r":"Blood BDCA1+DC","c":"CD209","k":"i","x":38,"y":60},{"r":"Blood BDCA1+DC","c":"CD209","k":"i","x":40,"y":50},{"r":"Blood BDCA1+DC","c":"CD209","k":"i","x":42,"y":37},{"r":"Blood BDCA1+DC","c":"CD209","k":"i","x":44,"y":25},{"r":"Blood BDCA1+DC","c":"CD209","k":"i","x":47,"y":10},{"r":"Blood BDCA1+DC","c":"CD209","k":"i","x":49,"y":3},{"r":"Blood BDCA1+DC","c":"CD209","k":"i","x":51,"y":0},
{"r":"Blood BDCA1+DC","c":"CD209","k":"s","x":0,"y":0},{"r":"Blood BDCA1+DC","c":"CD209","k":"s","x":2,"y":1},{"r":"Blood BDCA1+DC","c":"CD209","k":"s","x":7,"y":3},{"r":"Blood BDCA1+DC","c":"CD209","k":"s","x":11,"y":6},{"r":"Blood BDCA1+DC","c":"CD209","k":"s","x":14,"y":12},{"r":"Blood BDCA1+DC","c":"CD209","k":"s","x":18,"y":26},{"r":"Blood BDCA1+DC","c":"CD209","k":"s","x":21,"y":38},{"r":"Blood BDCA1+DC","c":"CD209","k":"s","x":24,"y":51},{"r":"Blood BDCA1+DC","c":"CD209","k":"s","x":27,"y":65},{"r":"Blood BDCA1+DC","c":"CD209","k":"s","x":29,"y":80},{"r":"Blood BDCA1+DC","c":"CD209","k":"s","x":31,"y":87},{"r":"Blood BDCA1+DC","c":"CD209","k":"s","x":33,"y":80},{"r":"Blood BDCA1+DC","c":"CD209","k":"s","x":35,"y":62},{"r":"Blood BDCA1+DC","c":"CD209","k":"s","x":37,"y":60},{"r":"Blood BDCA1+DC","c":"CD209","k":"s","x":39,"y":64},{"r":"Blood BDCA1+DC","c":"CD209","k":"s","x":41,"y":52},{"r":"Blood BDCA1+DC","c":"CD209","k":"s","x":43,"y":40},{"r":"Blood BDCA1+DC","c":"CD209","k":"s","x":46,"y":20},{"r":"Blood BDCA1+DC","c":"CD209","k":"s","x":49,"y":4},{"r":"Blood BDCA1+DC","c":"CD209","k":"s","x":51,"y":1},{"r":"Blood BDCA1+DC","c":"CD209","k":"s","x":53,"y":0},
{"r":"Blood BDCA1+DC","c":"CD172α","k":"i","x":4,"y":0},{"r":"Blood BDCA1+DC","c":"CD172α","k":"i","x":7,"y":1},{"r":"Blood BDCA1+DC","c":"CD172α","k":"i","x":11,"y":8},{"r":"Blood BDCA1+DC","c":"CD172α","k":"i","x":16,"y":24},{"r":"Blood BDCA1+DC","c":"CD172α","k":"i","x":20,"y":40},{"r":"Blood BDCA1+DC","c":"CD172α","k":"i","x":24,"y":60},{"r":"Blood BDCA1+DC","c":"CD172α","k":"i","x":27,"y":74},{"r":"Blood BDCA1+DC","c":"CD172α","k":"i","x":29,"y":82},{"r":"Blood BDCA1+DC","c":"CD172α","k":"i","x":31,"y":87},{"r":"Blood BDCA1+DC","c":"CD172α","k":"i","x":33,"y":80},{"r":"Blood BDCA1+DC","c":"CD172α","k":"i","x":36,"y":64},{"r":"Blood BDCA1+DC","c":"CD172α","k":"i","x":38,"y":45},{"r":"Blood BDCA1+DC","c":"CD172α","k":"i","x":40,"y":28},{"r":"Blood BDCA1+DC","c":"CD172α","k":"i","x":43,"y":13},{"r":"Blood BDCA1+DC","c":"CD172α","k":"i","x":47,"y":4},{"r":"Blood BDCA1+DC","c":"CD172α","k":"i","x":50,"y":1},{"r":"Blood BDCA1+DC","c":"CD172α","k":"i","x":53,"y":0},
{"r":"Blood BDCA1+DC","c":"CD172α","k":"s","x":14,"y":0},{"r":"Blood BDCA1+DC","c":"CD172α","k":"s","x":16,"y":1},{"r":"Blood BDCA1+DC","c":"CD172α","k":"s","x":25,"y":2},{"r":"Blood BDCA1+DC","c":"CD172α","k":"s","x":33,"y":4},{"r":"Blood BDCA1+DC","c":"CD172α","k":"s","x":38,"y":8},{"r":"Blood BDCA1+DC","c":"CD172α","k":"s","x":42,"y":15},{"r":"Blood BDCA1+DC","c":"CD172α","k":"s","x":45,"y":26},{"r":"Blood BDCA1+DC","c":"CD172α","k":"s","x":47,"y":38},{"r":"Blood BDCA1+DC","c":"CD172α","k":"s","x":49,"y":46},{"r":"Blood BDCA1+DC","c":"CD172α","k":"s","x":51,"y":50},{"r":"Blood BDCA1+DC","c":"CD172α","k":"s","x":53,"y":55},{"r":"Blood BDCA1+DC","c":"CD172α","k":"s","x":56,"y":64},{"r":"Blood BDCA1+DC","c":"CD172α","k":"s","x":58,"y":52},{"r":"Blood BDCA1+DC","c":"CD172α","k":"s","x":60,"y":42},{"r":"Blood BDCA1+DC","c":"CD172α","k":"s","x":62,"y":20},{"r":"Blood BDCA1+DC","c":"CD172α","k":"s","x":63,"y":10},{"r":"Blood BDCA1+DC","c":"CD172α","k":"s","x":65,"y":4},{"r":"Blood BDCA1+DC","c":"CD172α","k":"s","x":67,"y":1},{"r":"Blood BDCA1+DC","c":"CD172α","k":"s","x":69,"y":0},
{"r":"Blood BDCA1+DC","c":"FcεRI","k":"i","x":8,"y":0},{"r":"Blood BDCA1+DC","c":"FcεRI","k":"i","x":11,"y":1},{"r":"Blood BDCA1+DC","c":"FcεRI","k":"i","x":14,"y":15},{"r":"Blood BDCA1+DC","c":"FcεRI","k":"i","x":17,"y":42},{"r":"Blood BDCA1+DC","c":"FcεRI","k":"i","x":20,"y":72},{"r":"Blood BDCA1+DC","c":"FcεRI","k":"i","x":22,"y":89},{"r":"Blood BDCA1+DC","c":"FcεRI","k":"i","x":24,"y":80},{"r":"Blood BDCA1+DC","c":"FcεRI","k":"i","x":27,"y":51},{"r":"Blood BDCA1+DC","c":"FcεRI","k":"i","x":30,"y":28},{"r":"Blood BDCA1+DC","c":"FcεRI","k":"i","x":33,"y":10},{"r":"Blood BDCA1+DC","c":"FcεRI","k":"i","x":36,"y":3},{"r":"Blood BDCA1+DC","c":"FcεRI","k":"i","x":38,"y":1},{"r":"Blood BDCA1+DC","c":"FcεRI","k":"i","x":40,"y":0},
{"r":"Blood BDCA1+DC","c":"FcεRI","k":"s","x":10,"y":0},{"r":"Blood BDCA1+DC","c":"FcεRI","k":"s","x":13,"y":1},{"r":"Blood BDCA1+DC","c":"FcεRI","k":"s","x":16,"y":10},{"r":"Blood BDCA1+DC","c":"FcεRI","k":"s","x":18,"y":19},{"r":"Blood BDCA1+DC","c":"FcεRI","k":"s","x":20,"y":26},{"r":"Blood BDCA1+DC","c":"FcεRI","k":"s","x":22,"y":24},{"r":"Blood BDCA1+DC","c":"FcεRI","k":"s","x":23,"y":22},{"r":"Blood BDCA1+DC","c":"FcεRI","k":"s","x":25,"y":25},{"r":"Blood BDCA1+DC","c":"FcεRI","k":"s","x":27,"y":16},{"r":"Blood BDCA1+DC","c":"FcεRI","k":"s","x":29,"y":8},{"r":"Blood BDCA1+DC","c":"FcεRI","k":"s","x":32,"y":4},{"r":"Blood BDCA1+DC","c":"FcεRI","k":"s","x":36,"y":3},{"r":"Blood BDCA1+DC","c":"FcεRI","k":"s","x":42,"y":3},{"r":"Blood BDCA1+DC","c":"FcεRI","k":"s","x":49,"y":4},{"r":"Blood BDCA1+DC","c":"FcεRI","k":"s","x":53,"y":6},{"r":"Blood BDCA1+DC","c":"FcεRI","k":"s","x":56,"y":10},{"r":"Blood BDCA1+DC","c":"FcεRI","k":"s","x":58,"y":18},{"r":"Blood BDCA1+DC","c":"FcεRI","k":"s","x":60,"y":33},{"r":"Blood BDCA1+DC","c":"FcεRI","k":"s","x":62,"y":50},{"r":"Blood BDCA1+DC","c":"FcεRI","k":"s","x":64,"y":68},{"r":"Blood BDCA1+DC","c":"FcεRI","k":"s","x":66,"y":80},{"r":"Blood BDCA1+DC","c":"FcεRI","k":"s","x":68,"y":60},{"r":"Blood BDCA1+DC","c":"FcεRI","k":"s","x":70,"y":37},{"r":"Blood BDCA1+DC","c":"FcεRI","k":"s","x":71,"y":18},{"r":"Blood BDCA1+DC","c":"FcεRI","k":"s","x":72,"y":6},{"r":"Blood BDCA1+DC","c":"FcεRI","k":"s","x":74,"y":1},{"r":"Blood BDCA1+DC","c":"FcεRI","k":"s","x":76,"y":0},
{"r":"Blood BDCA1+DC","c":"CD11b","k":"i","x":8,"y":0},{"r":"Blood BDCA1+DC","c":"CD11b","k":"i","x":11,"y":1},{"r":"Blood BDCA1+DC","c":"CD11b","k":"i","x":14,"y":15},{"r":"Blood BDCA1+DC","c":"CD11b","k":"i","x":17,"y":42},{"r":"Blood BDCA1+DC","c":"CD11b","k":"i","x":20,"y":75},{"r":"Blood BDCA1+DC","c":"CD11b","k":"i","x":22,"y":89},{"r":"Blood BDCA1+DC","c":"CD11b","k":"i","x":24,"y":75},{"r":"Blood BDCA1+DC","c":"CD11b","k":"i","x":27,"y":42},{"r":"Blood BDCA1+DC","c":"CD11b","k":"i","x":30,"y":18},{"r":"Blood BDCA1+DC","c":"CD11b","k":"i","x":33,"y":8},{"r":"Blood BDCA1+DC","c":"CD11b","k":"i","x":36,"y":2},{"r":"Blood BDCA1+DC","c":"CD11b","k":"i","x":38,"y":0},
{"r":"Blood BDCA1+DC","c":"CD11b","k":"s","x":8,"y":0},{"r":"Blood BDCA1+DC","c":"CD11b","k":"s","x":11,"y":1},{"r":"Blood BDCA1+DC","c":"CD11b","k":"s","x":14,"y":13},{"r":"Blood BDCA1+DC","c":"CD11b","k":"s","x":17,"y":38},{"r":"Blood BDCA1+DC","c":"CD11b","k":"s","x":19,"y":65},{"r":"Blood BDCA1+DC","c":"CD11b","k":"s","x":21,"y":82},{"r":"Blood BDCA1+DC","c":"CD11b","k":"s","x":23,"y":76},{"r":"Blood BDCA1+DC","c":"CD11b","k":"s","x":26,"y":48},{"r":"Blood BDCA1+DC","c":"CD11b","k":"s","x":29,"y":22},{"r":"Blood BDCA1+DC","c":"CD11b","k":"s","x":31,"y":13},{"r":"Blood BDCA1+DC","c":"CD11b","k":"s","x":34,"y":9},{"r":"Blood BDCA1+DC","c":"CD11b","k":"s","x":37,"y":6},{"r":"Blood BDCA1+DC","c":"CD11b","k":"s","x":39,"y":2},{"r":"Blood BDCA1+DC","c":"CD11b","k":"s","x":41,"y":0},
{"r":"Blood BDCA1+DC","c":"CD1a","k":"i","x":9,"y":0},{"r":"Blood BDCA1+DC","c":"CD1a","k":"i","x":12,"y":1},{"r":"Blood BDCA1+DC","c":"CD1a","k":"i","x":15,"y":18},{"r":"Blood BDCA1+DC","c":"CD1a","k":"i","x":17,"y":42},{"r":"Blood BDCA1+DC","c":"CD1a","k":"i","x":20,"y":75},{"r":"Blood BDCA1+DC","c":"CD1a","k":"i","x":22,"y":89},{"r":"Blood BDCA1+DC","c":"CD1a","k":"i","x":24,"y":72},{"r":"Blood BDCA1+DC","c":"CD1a","k":"i","x":26,"y":42},{"r":"Blood BDCA1+DC","c":"CD1a","k":"i","x":29,"y":16},{"r":"Blood BDCA1+DC","c":"CD1a","k":"i","x":32,"y":6},{"r":"Blood BDCA1+DC","c":"CD1a","k":"i","x":35,"y":2},{"r":"Blood BDCA1+DC","c":"CD1a","k":"i","x":39,"y":0},
{"r":"Blood BDCA1+DC","c":"CD1a","k":"s","x":9,"y":0},{"r":"Blood BDCA1+DC","c":"CD1a","k":"s","x":12,"y":1},{"r":"Blood BDCA1+DC","c":"CD1a","k":"s","x":15,"y":16},{"r":"Blood BDCA1+DC","c":"CD1a","k":"s","x":17,"y":40},{"r":"Blood BDCA1+DC","c":"CD1a","k":"s","x":19,"y":68},{"r":"Blood BDCA1+DC","c":"CD1a","k":"s","x":21,"y":82},{"r":"Blood BDCA1+DC","c":"CD1a","k":"s","x":23,"y":74},{"r":"Blood BDCA1+DC","c":"CD1a","k":"s","x":25,"y":50},{"r":"Blood BDCA1+DC","c":"CD1a","k":"s","x":28,"y":22},{"r":"Blood BDCA1+DC","c":"CD1a","k":"s","x":30,"y":8},{"r":"Blood BDCA1+DC","c":"CD1a","k":"s","x":33,"y":3},{"r":"Blood BDCA1+DC","c":"CD1a","k":"s","x":36,"y":0},
{"r":"Blood BDCA1+DC","c":"CCR7","k":"i","x":10,"y":0},{"r":"Blood BDCA1+DC","c":"CCR7","k":"i","x":13,"y":1},{"r":"Blood BDCA1+DC","c":"CCR7","k":"i","x":16,"y":18},{"r":"Blood BDCA1+DC","c":"CCR7","k":"i","x":18,"y":42},{"r":"Blood BDCA1+DC","c":"CCR7","k":"i","x":20,"y":72},{"r":"Blood BDCA1+DC","c":"CCR7","k":"i","x":22,"y":89},{"r":"Blood BDCA1+DC","c":"CCR7","k":"i","x":24,"y":75},{"r":"Blood BDCA1+DC","c":"CCR7","k":"i","x":27,"y":42},{"r":"Blood BDCA1+DC","c":"CCR7","k":"i","x":30,"y":16},{"r":"Blood BDCA1+DC","c":"CCR7","k":"i","x":33,"y":6},{"r":"Blood BDCA1+DC","c":"CCR7","k":"i","x":36,"y":2},{"r":"Blood BDCA1+DC","c":"CCR7","k":"i","x":40,"y":0},
{"r":"Blood BDCA1+DC","c":"CCR7","k":"s","x":10,"y":0},{"r":"Blood BDCA1+DC","c":"CCR7","k":"s","x":13,"y":1},{"r":"Blood BDCA1+DC","c":"CCR7","k":"s","x":16,"y":16},{"r":"Blood BDCA1+DC","c":"CCR7","k":"s","x":18,"y":40},{"r":"Blood BDCA1+DC","c":"CCR7","k":"s","x":20,"y":68},{"r":"Blood BDCA1+DC","c":"CCR7","k":"s","x":21,"y":82},{"r":"Blood BDCA1+DC","c":"CCR7","k":"s","x":23,"y":76},{"r":"Blood BDCA1+DC","c":"CCR7","k":"s","x":26,"y":50},{"r":"Blood BDCA1+DC","c":"CCR7","k":"s","x":29,"y":24},{"r":"Blood BDCA1+DC","c":"CCR7","k":"s","x":32,"y":10},{"r":"Blood BDCA1+DC","c":"CCR7","k":"s","x":34,"y":5},{"r":"Blood BDCA1+DC","c":"CCR7","k":"s","x":36,"y":2},{"r":"Blood BDCA1+DC","c":"CCR7","k":"s","x":38,"y":0},
{"r":"infDC","c":"CD40","k":"i","x":0,"y":0},{"r":"infDC","c":"CD40","k":"i","x":2,"y":1},{"r":"infDC","c":"CD40","k":"i","x":6,"y":5},{"r":"infDC","c":"CD40","k":"i","x":11,"y":11},{"r":"infDC","c":"CD40","k":"i","x":15,"y":22},{"r":"infDC","c":"CD40","k":"i","x":20,"y":38},{"r":"infDC","c":"CD40","k":"i","x":24,"y":55},{"r":"infDC","c":"CD40","k":"i","x":27,"y":70},{"r":"infDC","c":"CD40","k":"i","x":29,"y":80},{"r":"infDC","c":"CD40","k":"i","x":31,"y":86},{"r":"infDC","c":"CD40","k":"i","x":33,"y":82},{"r":"infDC","c":"CD40","k":"i","x":36,"y":74},{"r":"infDC","c":"CD40","k":"i","x":38,"y":50},{"r":"infDC","c":"CD40","k":"i","x":40,"y":29},{"r":"infDC","c":"CD40","k":"i","x":42,"y":15},{"r":"infDC","c":"CD40","k":"i","x":44,"y":5},{"r":"infDC","c":"CD40","k":"i","x":47,"y":1},{"r":"infDC","c":"CD40","k":"i","x":49,"y":0},
{"r":"infDC","c":"CD40","k":"s","x":0,"y":0},{"r":"infDC","c":"CD40","k":"s","x":2,"y":1},{"r":"infDC","c":"CD40","k":"s","x":6,"y":5},{"r":"infDC","c":"CD40","k":"s","x":11,"y":11},{"r":"infDC","c":"CD40","k":"s","x":15,"y":22},{"r":"infDC","c":"CD40","k":"s","x":20,"y":37},{"r":"infDC","c":"CD40","k":"s","x":24,"y":54},{"r":"infDC","c":"CD40","k":"s","x":27,"y":68},{"r":"infDC","c":"CD40","k":"s","x":30,"y":78},{"r":"infDC","c":"CD40","k":"s","x":33,"y":84},{"r":"infDC","c":"CD40","k":"s","x":36,"y":89},{"r":"infDC","c":"CD40","k":"s","x":38,"y":75},{"r":"infDC","c":"CD40","k":"s","x":40,"y":50},{"r":"infDC","c":"CD40","k":"s","x":42,"y":29},{"r":"infDC","c":"CD40","k":"s","x":45,"y":20},{"r":"infDC","c":"CD40","k":"s","x":48,"y":16},{"r":"infDC","c":"CD40","k":"s","x":51,"y":9},{"r":"infDC","c":"CD40","k":"s","x":53,"y":5},{"r":"infDC","c":"CD40","k":"s","x":56,"y":1},{"r":"infDC","c":"CD40","k":"s","x":58,"y":0},
{"r":"infDC","c":"CD80","k":"i","x":0,"y":0},{"r":"infDC","c":"CD80","k":"i","x":2,"y":1},{"r":"infDC","c":"CD80","k":"i","x":6,"y":8},{"r":"infDC","c":"CD80","k":"i","x":11,"y":25},{"r":"infDC","c":"CD80","k":"i","x":15,"y":48},{"r":"infDC","c":"CD80","k":"i","x":18,"y":70},{"r":"infDC","c":"CD80","k":"i","x":21,"y":84},{"r":"infDC","c":"CD80","k":"i","x":24,"y":91},{"r":"infDC","c":"CD80","k":"i","x":27,"y":80},{"r":"infDC","c":"CD80","k":"i","x":29,"y":70},{"r":"infDC","c":"CD80","k":"i","x":32,"y":46},{"r":"infDC","c":"CD80","k":"i","x":36,"y":25},{"r":"infDC","c":"CD80","k":"i","x":40,"y":14},{"r":"infDC","c":"CD80","k":"i","x":44,"y":7},{"r":"infDC","c":"CD80","k":"i","x":50,"y":3},{"r":"infDC","c":"CD80","k":"i","x":56,"y":1},{"r":"infDC","c":"CD80","k":"i","x":60,"y":0},
{"r":"infDC","c":"CD80","k":"s","x":13,"y":0},{"r":"infDC","c":"CD80","k":"s","x":16,"y":1},{"r":"infDC","c":"CD80","k":"s","x":19,"y":8},{"r":"infDC","c":"CD80","k":"s","x":22,"y":20},{"r":"infDC","c":"CD80","k":"s","x":25,"y":35},{"r":"infDC","c":"CD80","k":"s","x":29,"y":61},{"r":"infDC","c":"CD80","k":"s","x":32,"y":78},{"r":"infDC","c":"CD80","k":"s","x":36,"y":88},{"r":"infDC","c":"CD80","k":"s","x":38,"y":82},{"r":"infDC","c":"CD80","k":"s","x":40,"y":79},{"r":"infDC","c":"CD80","k":"s","x":43,"y":85},{"r":"infDC","c":"CD80","k":"s","x":45,"y":82},{"r":"infDC","c":"CD80","k":"s","x":47,"y":87},{"r":"infDC","c":"CD80","k":"s","x":50,"y":80},{"r":"infDC","c":"CD80","k":"s","x":53,"y":79},{"r":"infDC","c":"CD80","k":"s","x":56,"y":76},{"r":"infDC","c":"CD80","k":"s","x":58,"y":74},{"r":"infDC","c":"CD80","k":"s","x":60,"y":55},{"r":"infDC","c":"CD80","k":"s","x":62,"y":38},{"r":"infDC","c":"CD80","k":"s","x":65,"y":24},{"r":"infDC","c":"CD80","k":"s","x":67,"y":16},{"r":"infDC","c":"CD80","k":"s","x":70,"y":9},{"r":"infDC","c":"CD80","k":"s","x":73,"y":5},{"r":"infDC","c":"CD80","k":"s","x":77,"y":1},{"r":"infDC","c":"CD80","k":"s","x":80,"y":0},
{"r":"infDC","c":"CD83","k":"i","x":0,"y":0},{"r":"infDC","c":"CD83","k":"i","x":2,"y":1},{"r":"infDC","c":"CD83","k":"i","x":6,"y":7},{"r":"infDC","c":"CD83","k":"i","x":11,"y":20},{"r":"infDC","c":"CD83","k":"i","x":15,"y":42},{"r":"infDC","c":"CD83","k":"i","x":18,"y":61},{"r":"infDC","c":"CD83","k":"i","x":21,"y":80},{"r":"infDC","c":"CD83","k":"i","x":24,"y":90},{"r":"infDC","c":"CD83","k":"i","x":27,"y":78},{"r":"infDC","c":"CD83","k":"i","x":29,"y":65},{"r":"infDC","c":"CD83","k":"i","x":31,"y":42},{"r":"infDC","c":"CD83","k":"i","x":33,"y":20},{"r":"infDC","c":"CD83","k":"i","x":36,"y":10},{"r":"infDC","c":"CD83","k":"i","x":40,"y":5},{"r":"infDC","c":"CD83","k":"i","x":47,"y":1},{"r":"infDC","c":"CD83","k":"i","x":56,"y":0},
{"r":"infDC","c":"CD83","k":"s","x":13,"y":0},{"r":"infDC","c":"CD83","k":"s","x":16,"y":1},{"r":"infDC","c":"CD83","k":"s","x":19,"y":18},{"r":"infDC","c":"CD83","k":"s","x":21,"y":38},{"r":"infDC","c":"CD83","k":"s","x":24,"y":70},{"r":"infDC","c":"CD83","k":"s","x":27,"y":90},{"r":"infDC","c":"CD83","k":"s","x":29,"y":80},{"r":"infDC","c":"CD83","k":"s","x":31,"y":62},{"r":"infDC","c":"CD83","k":"s","x":33,"y":43},{"r":"infDC","c":"CD83","k":"s","x":35,"y":28},{"r":"infDC","c":"CD83","k":"s","x":38,"y":18},{"r":"infDC","c":"CD83","k":"s","x":42,"y":14},{"r":"infDC","c":"CD83","k":"s","x":47,"y":11},{"r":"infDC","c":"CD83","k":"s","x":53,"y":8},{"r":"infDC","c":"CD83","k":"s","x":60,"y":6},{"r":"infDC","c":"CD83","k":"s","x":66,"y":3},{"r":"infDC","c":"CD83","k":"s","x":73,"y":1},{"r":"infDC","c":"CD83","k":"s","x":78,"y":0},
{"r":"infDC","c":"CD86","k":"i","x":2,"y":0},{"r":"infDC","c":"CD86","k":"i","x":4,"y":1},{"r":"infDC","c":"CD86","k":"i","x":7,"y":7},{"r":"infDC","c":"CD86","k":"i","x":10,"y":16},{"r":"infDC","c":"CD86","k":"i","x":14,"y":30},{"r":"infDC","c":"CD86","k":"i","x":17,"y":43},{"r":"infDC","c":"CD86","k":"i","x":20,"y":57},{"r":"infDC","c":"CD86","k":"i","x":24,"y":70},{"r":"infDC","c":"CD86","k":"i","x":28,"y":77},{"r":"infDC","c":"CD86","k":"i","x":31,"y":82},{"r":"infDC","c":"CD86","k":"i","x":33,"y":86},{"r":"infDC","c":"CD86","k":"i","x":35,"y":77},{"r":"infDC","c":"CD86","k":"i","x":37,"y":65},{"r":"infDC","c":"CD86","k":"i","x":39,"y":46},{"r":"infDC","c":"CD86","k":"i","x":41,"y":29},{"r":"infDC","c":"CD86","k":"i","x":44,"y":15},{"r":"infDC","c":"CD86","k":"i","x":48,"y":5},{"r":"infDC","c":"CD86","k":"i","x":52,"y":3},{"r":"infDC","c":"CD86","k":"i","x":57,"y":1},{"r":"infDC","c":"CD86","k":"i","x":64,"y":0},
{"r":"infDC","c":"CD86","k":"s","x":38,"y":0},{"r":"infDC","c":"CD86","k":"s","x":41,"y":1},{"r":"infDC","c":"CD86","k":"s","x":44,"y":5},{"r":"infDC","c":"CD86","k":"s","x":48,"y":16},{"r":"infDC","c":"CD86","k":"s","x":51,"y":32},{"r":"infDC","c":"CD86","k":"s","x":55,"y":56},{"r":"infDC","c":"CD86","k":"s","x":58,"y":72},{"r":"infDC","c":"CD86","k":"s","x":61,"y":83},{"r":"infDC","c":"CD86","k":"s","x":64,"y":90},{"r":"infDC","c":"CD86","k":"s","x":66,"y":87},{"r":"infDC","c":"CD86","k":"s","x":68,"y":83},{"r":"infDC","c":"CD86","k":"s","x":70,"y":68},{"r":"infDC","c":"CD86","k":"s","x":72,"y":52},{"r":"infDC","c":"CD86","k":"s","x":75,"y":35},{"r":"infDC","c":"CD86","k":"s","x":79,"y":20},{"r":"infDC","c":"CD86","k":"s","x":82,"y":10},{"r":"infDC","c":"CD86","k":"s","x":86,"y":5},{"r":"infDC","c":"CD86","k":"s","x":88,"y":2},{"r":"infDC","c":"CD86","k":"s","x":90,"y":0},
{"r":"infDC","c":"CD274","k":"i","x":0,"y":0},{"r":"infDC","c":"CD274","k":"i","x":2,"y":1},{"r":"infDC","c":"CD274","k":"i","x":6,"y":10},{"r":"infDC","c":"CD274","k":"i","x":11,"y":29},{"r":"infDC","c":"CD274","k":"i","x":15,"y":50},{"r":"infDC","c":"CD274","k":"i","x":18,"y":70},{"r":"infDC","c":"CD274","k":"i","x":21,"y":84},{"r":"infDC","c":"CD274","k":"i","x":24,"y":91},{"r":"infDC","c":"CD274","k":"i","x":26,"y":84},{"r":"infDC","c":"CD274","k":"i","x":28,"y":74},{"r":"infDC","c":"CD274","k":"i","x":30,"y":52},{"r":"infDC","c":"CD274","k":"i","x":31,"y":38},{"r":"infDC","c":"CD274","k":"i","x":34,"y":22},{"r":"infDC","c":"CD274","k":"i","x":38,"y":11},{"r":"infDC","c":"CD274","k":"i","x":43,"y":5},{"r":"infDC","c":"CD274","k":"i","x":49,"y":2},{"r":"infDC","c":"CD274","k":"i","x":58,"y":0},
{"r":"infDC","c":"CD274","k":"s","x":15,"y":0},{"r":"infDC","c":"CD274","k":"s","x":18,"y":1},{"r":"infDC","c":"CD274","k":"s","x":21,"y":10},{"r":"infDC","c":"CD274","k":"s","x":24,"y":29},{"r":"infDC","c":"CD274","k":"s","x":27,"y":50},{"r":"infDC","c":"CD274","k":"s","x":29,"y":65},{"r":"infDC","c":"CD274","k":"s","x":32,"y":78},{"r":"infDC","c":"CD274","k":"s","x":35,"y":84},{"r":"infDC","c":"CD274","k":"s","x":38,"y":80},{"r":"infDC","c":"CD274","k":"s","x":40,"y":70},{"r":"infDC","c":"CD274","k":"s","x":43,"y":62},{"r":"infDC","c":"CD274","k":"s","x":47,"y":52},{"r":"infDC","c":"CD274","k":"s","x":50,"y":38},{"r":"infDC","c":"CD274","k":"s","x":53,"y":25},{"r":"infDC","c":"CD274","k":"s","x":57,"y":20},{"r":"infDC","c":"CD274","k":"s","x":62,"y":14},{"r":"infDC","c":"CD274","k":"s","x":66,"y":9},{"r":"infDC","c":"CD274","k":"s","x":71,"y":5},{"r":"infDC","c":"CD274","k":"s","x":75,"y":2},{"r":"infDC","c":"CD274","k":"s","x":78,"y":0},
{"r":"infDC","c":"CD275","k":"i","x":2,"y":0},{"r":"infDC","c":"CD275","k":"i","x":4,"y":1},{"r":"infDC","c":"CD275","k":"i","x":7,"y":10},{"r":"infDC","c":"CD275","k":"i","x":11,"y":25},{"r":"infDC","c":"CD275","k":"i","x":15,"y":48},{"r":"infDC","c":"CD275","k":"i","x":18,"y":70},{"r":"infDC","c":"CD275","k":"i","x":21,"y":84},{"r":"infDC","c":"CD275","k":"i","x":24,"y":92},{"r":"infDC","c":"CD275","k":"i","x":26,"y":82},{"r":"infDC","c":"CD275","k":"i","x":29,"y":65},{"r":"infDC","c":"CD275","k":"i","x":31,"y":45},{"r":"infDC","c":"CD275","k":"i","x":33,"y":29},{"r":"infDC","c":"CD275","k":"i","x":37,"y":15},{"r":"infDC","c":"CD275","k":"i","x":42,"y":7},{"r":"infDC","c":"CD275","k":"i","x":47,"y":3},{"r":"infDC","c":"CD275","k":"i","x":53,"y":1},{"r":"infDC","c":"CD275","k":"i","x":60,"y":0},
{"r":"infDC","c":"CD275","k":"s","x":9,"y":0},{"r":"infDC","c":"CD275","k":"s","x":11,"y":1},{"r":"infDC","c":"CD275","k":"s","x":15,"y":10},{"r":"infDC","c":"CD275","k":"s","x":20,"y":29},{"r":"infDC","c":"CD275","k":"s","x":24,"y":53},{"r":"infDC","c":"CD275","k":"s","x":27,"y":74},{"r":"infDC","c":"CD275","k":"s","x":30,"y":89},{"r":"infDC","c":"CD275","k":"s","x":33,"y":78},{"r":"infDC","c":"CD275","k":"s","x":36,"y":52},{"r":"infDC","c":"CD275","k":"s","x":38,"y":38},{"r":"infDC","c":"CD275","k":"s","x":40,"y":29},{"r":"infDC","c":"CD275","k":"s","x":43,"y":20},{"r":"infDC","c":"CD275","k":"s","x":46,"y":11},{"r":"infDC","c":"CD275","k":"s","x":50,"y":7},{"r":"infDC","c":"CD275","k":"s","x":53,"y":5},{"r":"infDC","c":"CD275","k":"s","x":57,"y":2},{"r":"infDC","c":"CD275","k":"s","x":60,"y":0},
{"r":"Macrophage","c":"CD40","k":"i","x":8,"y":0},{"r":"Macrophage","c":"CD40","k":"i","x":11,"y":1},{"r":"Macrophage","c":"CD40","k":"i","x":16,"y":6},{"r":"Macrophage","c":"CD40","k":"i","x":20,"y":14},{"r":"Macrophage","c":"CD40","k":"i","x":24,"y":30},{"r":"Macrophage","c":"CD40","k":"i","x":27,"y":50},{"r":"Macrophage","c":"CD40","k":"i","x":30,"y":72},{"r":"Macrophage","c":"CD40","k":"i","x":33,"y":93},{"r":"Macrophage","c":"CD40","k":"i","x":35,"y":85},{"r":"Macrophage","c":"CD40","k":"i","x":38,"y":68},{"r":"Macrophage","c":"CD40","k":"i","x":40,"y":45},{"r":"Macrophage","c":"CD40","k":"i","x":42,"y":23},{"r":"Macrophage","c":"CD40","k":"i","x":45,"y":7},{"r":"Macrophage","c":"CD40","k":"i","x":47,"y":1},{"r":"Macrophage","c":"CD40","k":"i","x":49,"y":0},
{"r":"Macrophage","c":"CD40","k":"s","x":9,"y":0},{"r":"Macrophage","c":"CD40","k":"s","x":12,"y":1},{"r":"Macrophage","c":"CD40","k":"s","x":17,"y":6},{"r":"Macrophage","c":"CD40","k":"s","x":21,"y":14},{"r":"Macrophage","c":"CD40","k":"s","x":25,"y":30},{"r":"Macrophage","c":"CD40","k":"s","x":28,"y":50},{"r":"Macrophage","c":"CD40","k":"s","x":31,"y":70},{"r":"Macrophage","c":"CD40","k":"s","x":34,"y":86},{"r":"Macrophage","c":"CD40","k":"s","x":36,"y":90},{"r":"Macrophage","c":"CD40","k":"s","x":38,"y":78},{"r":"Macrophage","c":"CD40","k":"s","x":40,"y":58},{"r":"Macrophage","c":"CD40","k":"s","x":42,"y":35},{"r":"Macrophage","c":"CD40","k":"s","x":44,"y":9},{"r":"Macrophage","c":"CD40","k":"s","x":47,"y":2},{"r":"Macrophage","c":"CD40","k":"s","x":49,"y":0},
{"r":"Macrophage","c":"CD80","k":"i","x":8,"y":0},{"r":"Macrophage","c":"CD80","k":"i","x":11,"y":1},{"r":"Macrophage","c":"CD80","k":"i","x":15,"y":14},{"r":"Macrophage","c":"CD80","k":"i","x":18,"y":32},{"r":"Macrophage","c":"CD80","k":"i","x":21,"y":55},{"r":"Macrophage","c":"CD80","k":"i","x":24,"y":77},{"r":"Macrophage","c":"CD80","k":"i","x":27,"y":88},{"r":"Macrophage","c":"CD80","k":"i","x":29,"y":92},{"r":"Macrophage","c":"CD80","k":"i","x":31,"y":86},{"r":"Macrophage","c":"CD80","k":"i","x":33,"y":77},{"r":"Macrophage","c":"CD80","k":"i","x":35,"y":60},{"r":"Macrophage","c":"CD80","k":"i","x":38,"y":32},{"r":"Macrophage","c":"CD80","k":"i","x":41,"y":14},{"r":"Macrophage","c":"CD80","k":"i","x":44,"y":5},{"r":"Macrophage","c":"CD80","k":"i","x":47,"y":1},{"r":"Macrophage","c":"CD80","k":"i","x":51,"y":0},
{"r":"Macrophage","c":"CD80","k":"s","x":15,"y":0},{"r":"Macrophage","c":"CD80","k":"s","x":18,"y":1},{"r":"Macrophage","c":"CD80","k":"s","x":23,"y":6},{"r":"Macrophage","c":"CD80","k":"s","x":29,"y":23},{"r":"Macrophage","c":"CD80","k":"s","x":34,"y":42},{"r":"Macrophage","c":"CD80","k":"s","x":38,"y":59},{"r":"Macrophage","c":"CD80","k":"s","x":42,"y":74},{"r":"Macrophage","c":"CD80","k":"s","x":45,"y":84},{"r":"Macrophage","c":"CD80","k":"s","x":48,"y":90},{"r":"Macrophage","c":"CD80","k":"s","x":50,"y":85},{"r":"Macrophage","c":"CD80","k":"s","x":53,"y":72},{"r":"Macrophage","c":"CD80","k":"s","x":56,"y":55},{"r":"Macrophage","c":"CD80","k":"s","x":60,"y":36},{"r":"Macrophage","c":"CD80","k":"s","x":64,"y":18},{"r":"Macrophage","c":"CD80","k":"s","x":67,"y":9},{"r":"Macrophage","c":"CD80","k":"s","x":69,"y":3},{"r":"Macrophage","c":"CD80","k":"s","x":71,"y":0},
{"r":"Macrophage","c":"CD83","k":"i","x":6,"y":0},{"r":"Macrophage","c":"CD83","k":"i","x":9,"y":1},{"r":"Macrophage","c":"CD83","k":"i","x":13,"y":14},{"r":"Macrophage","c":"CD83","k":"i","x":16,"y":32},{"r":"Macrophage","c":"CD83","k":"i","x":19,"y":52},{"r":"Macrophage","c":"CD83","k":"i","x":22,"y":72},{"r":"Macrophage","c":"CD83","k":"i","x":26,"y":87},{"r":"Macrophage","c":"CD83","k":"i","x":29,"y":93},{"r":"Macrophage","c":"CD83","k":"i","x":31,"y":88},{"r":"Macrophage","c":"CD83","k":"i","x":33,"y":77},{"r":"Macrophage","c":"CD83","k":"i","x":35,"y":58},{"r":"Macrophage","c":"CD83","k":"i","x":38,"y":32},{"r":"Macrophage","c":"CD83","k":"i","x":41,"y":14},{"r":"Macrophage","c":"CD83","k":"i","x":44,"y":5},{"r":"Macrophage","c":"CD83","k":"i","x":48,"y":1},{"r":"Macrophage","c":"CD83","k":"i","x":51,"y":0},
{"r":"Macrophage","c":"CD83","k":"s","x":13,"y":0},{"r":"Macrophage","c":"CD83","k":"s","x":16,"y":1},{"r":"Macrophage","c":"CD83","k":"s","x":20,"y":15},{"r":"Macrophage","c":"CD83","k":"s","x":24,"y":41},{"r":"Macrophage","c":"CD83","k":"s","x":28,"y":65},{"r":"Macrophage","c":"CD83","k":"s","x":32,"y":83},{"r":"Macrophage","c":"CD83","k":"s","x":34,"y":88},{"r":"Macrophage","c":"CD83","k":"s","x":36,"y":92},{"r":"Macrophage","c":"CD83","k":"s","x":39,"y":78},{"r":"Macrophage","c":"CD83","k":"s","x":42,"y":54},{"r":"Macrophage","c":"CD83","k":"s","x":45,"y":32},{"r":"Macrophage","c":"CD83","k":"s","x":48,"y":14},{"r":"Macrophage","c":"CD83","k":"s","x":52,"y":6},{"r":"Macrophage","c":"CD83","k":"s","x":56,"y":2},{"r":"Macrophage","c":"CD83","k":"s","x":62,"y":1},{"r":"Macrophage","c":"CD83","k":"s","x":69,"y":0},
{"r":"Macrophage","c":"CD86","k":"i","x":12,"y":0},{"r":"Macrophage","c":"CD86","k":"i","x":15,"y":1},{"r":"Macrophage","c":"CD86","k":"i","x":17,"y":15},{"r":"Macrophage","c":"CD86","k":"i","x":19,"y":45},{"r":"Macrophage","c":"CD86","k":"i","x":21,"y":68},{"r":"Macrophage","c":"CD86","k":"i","x":23,"y":84},{"r":"Macrophage","c":"CD86","k":"i","x":25,"y":90},{"r":"Macrophage","c":"CD86","k":"i","x":27,"y":82},{"r":"Macrophage","c":"CD86","k":"i","x":30,"y":59},{"r":"Macrophage","c":"CD86","k":"i","x":33,"y":38},{"r":"Macrophage","c":"CD86","k":"i","x":36,"y":18},{"r":"Macrophage","c":"CD86","k":"i","x":39,"y":9},{"r":"Macrophage","c":"CD86","k":"i","x":41,"y":5},{"r":"Macrophage","c":"CD86","k":"i","x":45,"y":2},{"r":"Macrophage","c":"CD86","k":"i","x":48,"y":0},
{"r":"Macrophage","c":"CD86","k":"s","x":18,"y":0},{"r":"Macrophage","c":"CD86","k":"s","x":21,"y":1},{"r":"Macrophage","c":"CD86","k":"s","x":30,"y":3},{"r":"Macrophage","c":"CD86","k":"s","x":36,"y":5},{"r":"Macrophage","c":"CD86","k":"s","x":39,"y":7},{"r":"Macrophage","c":"CD86","k":"s","x":42,"y":14},{"r":"Macrophage","c":"CD86","k":"s","x":45,"y":28},{"r":"Macrophage","c":"CD86","k":"s","x":48,"y":45},{"r":"Macrophage","c":"CD86","k":"s","x":51,"y":63},{"r":"Macrophage","c":"CD86","k":"s","x":54,"y":80},{"r":"Macrophage","c":"CD86","k":"s","x":56,"y":90},{"r":"Macrophage","c":"CD86","k":"s","x":58,"y":80},{"r":"Macrophage","c":"CD86","k":"s","x":61,"y":54},{"r":"Macrophage","c":"CD86","k":"s","x":64,"y":30},{"r":"Macrophage","c":"CD86","k":"s","x":66,"y":17},{"r":"Macrophage","c":"CD86","k":"s","x":68,"y":9},{"r":"Macrophage","c":"CD86","k":"s","x":70,"y":3},{"r":"Macrophage","c":"CD86","k":"s","x":72,"y":0},
{"r":"Macrophage","c":"CD274","k":"i","x":8,"y":0},{"r":"Macrophage","c":"CD274","k":"i","x":11,"y":1},{"r":"Macrophage","c":"CD274","k":"i","x":14,"y":14},{"r":"Macrophage","c":"CD274","k":"i","x":18,"y":36},{"r":"Macrophage","c":"CD274","k":"i","x":21,"y":55},{"r":"Macrophage","c":"CD274","k":"i","x":24,"y":75},{"r":"Macrophage","c":"CD274","k":"i","x":26,"y":85},{"r":"Macrophage","c":"CD274","k":"i","x":28,"y":91},{"r":"Macrophage","c":"CD274","k":"i","x":30,"y":85},{"r":"Macrophage","c":"CD274","k":"i","x":33,"y":68},{"r":"Macrophage","c":"CD274","k":"i","x":36,"y":42},{"r":"Macrophage","c":"CD274","k":"i","x":40,"y":18},{"r":"Macrophage","c":"CD274","k":"i","x":44,"y":6},{"r":"Macrophage","c":"CD274","k":"i","x":49,"y":1},{"r":"Macrophage","c":"CD274","k":"i","x":53,"y":0},
{"r":"Macrophage","c":"CD274","k":"s","x":19,"y":0},{"r":"Macrophage","c":"CD274","k":"s","x":22,"y":1},{"r":"Macrophage","c":"CD274","k":"s","x":28,"y":6},{"r":"Macrophage","c":"CD274","k":"s","x":33,"y":14},{"r":"Macrophage","c":"CD274","k":"s","x":36,"y":23},{"r":"Macrophage","c":"CD274","k":"s","x":40,"y":38},{"r":"Macrophage","c":"CD274","k":"s","x":44,"y":56},{"r":"Macrophage","c":"CD274","k":"s","x":47,"y":72},{"r":"Macrophage","c":"CD274","k":"s","x":50,"y":84},{"r":"Macrophage","c":"CD274","k":"s","x":53,"y":92},{"r":"Macrophage","c":"CD274","k":"s","x":55,"y":87},{"r":"Macrophage","c":"CD274","k":"s","x":58,"y":68},{"r":"Macrophage","c":"CD274","k":"s","x":61,"y":40},{"r":"Macrophage","c":"CD274","k":"s","x":64,"y":14},{"r":"Macrophage","c":"CD274","k":"s","x":67,"y":4},{"r":"Macrophage","c":"CD274","k":"s","x":71,"y":0},
{"r":"Macrophage","c":"CD275","k":"i","x":6,"y":0},{"r":"Macrophage","c":"CD275","k":"i","x":9,"y":1},{"r":"Macrophage","c":"CD275","k":"i","x":13,"y":14},{"r":"Macrophage","c":"CD275","k":"i","x":16,"y":32},{"r":"Macrophage","c":"CD275","k":"i","x":20,"y":52},{"r":"Macrophage","c":"CD275","k":"i","x":24,"y":72},{"r":"Macrophage","c":"CD275","k":"i","x":27,"y":88},{"r":"Macrophage","c":"CD275","k":"i","x":29,"y":95},{"r":"Macrophage","c":"CD275","k":"i","x":31,"y":85},{"r":"Macrophage","c":"CD275","k":"i","x":33,"y":68},{"r":"Macrophage","c":"CD275","k":"i","x":36,"y":40},{"r":"Macrophage","c":"CD275","k":"i","x":40,"y":14},{"r":"Macrophage","c":"CD275","k":"i","x":44,"y":4},{"r":"Macrophage","c":"CD275","k":"i","x":47,"y":0},
{"r":"Macrophage","c":"CD275","k":"s","x":13,"y":0},{"r":"Macrophage","c":"CD275","k":"s","x":16,"y":1},{"r":"Macrophage","c":"CD275","k":"s","x":20,"y":18},{"r":"Macrophage","c":"CD275","k":"s","x":24,"y":45},{"r":"Macrophage","c":"CD275","k":"s","x":28,"y":68},{"r":"Macrophage","c":"CD275","k":"s","x":31,"y":81},{"r":"Macrophage","c":"CD275","k":"s","x":33,"y":80},{"r":"Macrophage","c":"CD275","k":"s","x":36,"y":83},{"r":"Macrophage","c":"CD275","k":"s","x":38,"y":82},{"r":"Macrophage","c":"CD275","k":"s","x":40,"y":77},{"r":"Macrophage","c":"CD275","k":"s","x":43,"y":58},{"r":"Macrophage","c":"CD275","k":"s","x":47,"y":32},{"r":"Macrophage","c":"CD275","k":"s","x":50,"y":15},{"r":"Macrophage","c":"CD275","k":"s","x":53,"y":5},{"r":"Macrophage","c":"CD275","k":"s","x":56,"y":1},{"r":"Macrophage","c":"CD275","k":"s","x":58,"y":0}
]},
"vconcat":[
{
"title":{"text":"A","offset":0},
"data":{"name":"d"},
"transform":[{"filter":"datum.r!='Blood BDCA1+DC' && indexof(['CD40','CD80','CD83','CD86','CD274','CD275'],datum.c)<0"}],
"bounds":"flush",
"spacing":{"row":17,"column":7.4},
"facet":{
"row":{"field":"r","type":"nominal","title":null,"sort":["infDC","Macrophage"],"header":{"labelAngle":-90,"labelOrient":"left","labelAlign":"center","labelBaseline":"bottom","labelPadding":-8}},
"column":{"field":"c","type":"nominal","title":null,"sort":["CD206","CD14","CD209","CD172α","FcεRI","CD11b","CD1a","CCR7"],"header":{"labelPadding":1,"labelFontSize":10}}
},
"spec":{"width":75,"height":75,
"encoding":{
"x":{"field":"x","type":"quantitative","scale":{"domain":[0,100],"nice":false},"axis":{"values":[15,42,67,89],"labelExpr":"datum.value==15?'0':datum.value==42?'10³':datum.value==67?'10⁴':'10⁵'"}},
"y":{"field":"y","type":"quantitative","scale":{"domain":[0,100],"nice":false},"axis":{"values":[0,20,40,60,80,100],"labels":false}}
},
"layer":[
{"transform":[{"filter":"datum.k=='i'"}],"mark":{"type":"area","interpolate":"monotone","fill":"#a9a9a9","stroke":"#222","strokeWidth":0.8}},
{"transform":[{"filter":"datum.k=='s'"}],"mark":{"type":"line","interpolate":"monotone","stroke":"#111","strokeWidth":0.8}}
]}
},
{
"title":{"text":"B","offset":11},
"data":{"name":"d"},
"transform":[{"filter":"datum.r=='Blood BDCA1+DC'"}],
"bounds":"flush",
"spacing":{"row":19,"column":7.4},
"facet":{
"row":{"field":"r","type":"nominal","title":null,"header":{"labelAngle":-90,"labelOrient":"left","labelAlign":"center","labelBaseline":"bottom","labelPadding":-8}},
"column":{"field":"c","type":"nominal","title":null,"sort":["CD206","CD14","CD209","CD172α","FcεRI","CD11b","CD1a","CCR7"],"header":{"labels":false}}
},
"spec":{"width":75,"height":75,
"encoding":{
"x":{"field":"x","type":"quantitative","scale":{"domain":[0,100],"nice":false},"axis":{"values":[15,42,67,89],"labelExpr":"datum.value==15?'0':datum.value==42?'10³':datum.value==67?'10⁴':'10⁵'"}},
"y":{"field":"y","type":"quantitative","scale":{"domain":[0,100],"nice":false},"axis":{"values":[0,20,40,60,80,100],"labels":false}}
},
"layer":[
{"transform":[{"filter":"datum.k=='i'"}],"mark":{"type":"area","interpolate":"monotone","fill":"#a9a9a9","stroke":"#222","strokeWidth":0.8}},
{"transform":[{"filter":"datum.k=='s'"}],"mark":{"type":"line","interpolate":"monotone","stroke":"#111","strokeWidth":0.8}}
]}
},
{
"title":{"text":"C","offset":0},
"data":{"name":"d"},
"transform":[{"filter":"indexof(['CD40','CD80','CD83','CD86','CD274','CD275'],datum.c)>=0"}],
"bounds":"flush",
"spacing":{"row":22,"column":7.4},
"facet":{
"row":{"field":"r","type":"nominal","title":null,"sort":["infDC","Macrophage"],"header":{"labelAngle":-90,"labelOrient":"left","labelAlign":"center","labelBaseline":"bottom","labelPadding":-8}},
"column":{"field":"c","type":"nominal","title":null,"sort":["CD40","CD80","CD83","CD86","CD274","CD275"],"header":{"labelPadding":1,"labelFontSize":10}}
},
"spec":{"width":75,"height":74,
"encoding":{
"x":{"field":"x","type":"quantitative","scale":{"domain":[0,100],"nice":false},"axis":{"values":[15,42,67,89],"labelExpr":"datum.value==15?'0':datum.value==42?'10³':datum.value==67?'10⁴':'10⁵'"}},
"y":{"field":"y","type":"quantitative","scale":{"domain":[0,100],"nice":false},"axis":{"values":[0,20,40,60,80,100],"labels":false}}
},
"layer":[
{"transform":[{"filter":"datum.k=='i'"}],"mark":{"type":"area","interpolate":"monotone","fill":"#a9a9a9","stroke":"#222","strokeWidth":0.8}},
{"transform":[{"filter":"datum.k=='s'"}],"mark":{"type":"line","interpolate":"monotone","stroke":"#111","strokeWidth":0.8}}
]}
}
]
}
